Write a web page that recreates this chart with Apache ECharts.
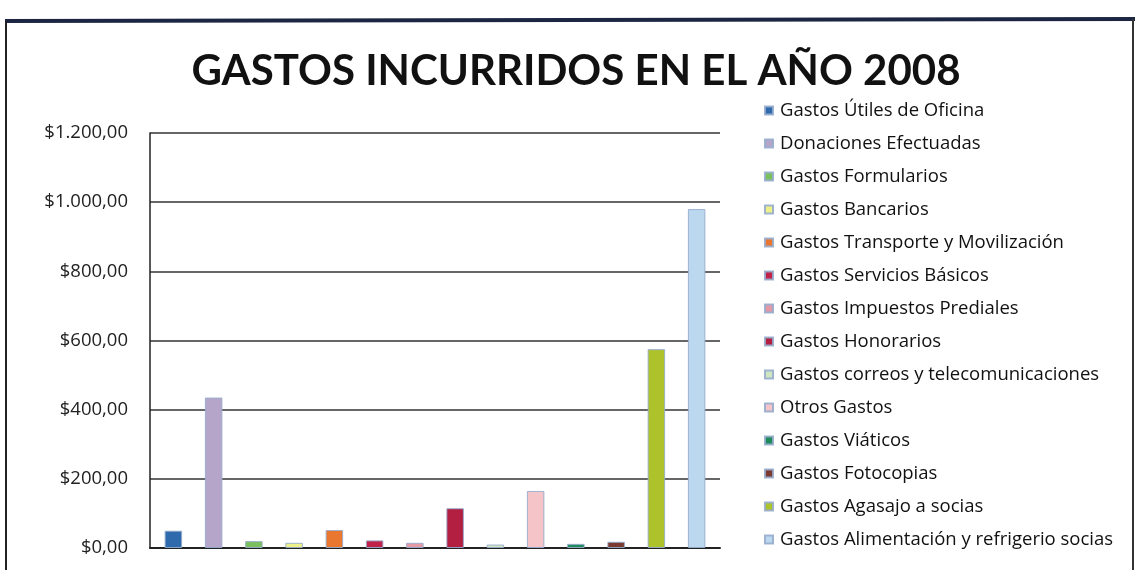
<!DOCTYPE html>
<html><head><meta charset="utf-8">
<script src="https://cdn.jsdelivr.net/npm/echarts@6/dist/echarts.min.js"></script>
<style>html,body{margin:0;padding:0;background:#fff}#c{width:1139px;height:570px}</style>
</head><body><div id="c"></div>
<script>
const seriesNames = [
  'Gastos Útiles de Oficina','Donaciones Efectuadas','Gastos Formularios','Gastos Bancarios',
  'Gastos Transporte y Movilización','Gastos Servicios Básicos','Gastos Impuestos Prediales',
  'Gastos Honorarios','Gastos correos y telecomunicaciones','Otros Gastos','Gastos Viáticos',
  'Gastos Fotocopias','Gastos Agasajo a socias','Gastos Alimentación y refrigerio socias'
];
const values = [50, 435, 20, 15, 52, 22, 15, 115, 10, 165, 12, 18, 575, 980];
const colors = ['#2f6aad','#b4a5c9','#7cc05e','#eef08a','#e9772f','#c0234a','#e39aa6',
  '#b21f41','#d0e6c0','#f4c4c8','#1f8a5c','#7a3a30','#adc22b','#bcd8ee'];
const tickLabels = ['$0,00','$200,00','$400,00','$600,00','$800,00','$1.000,00','$1.200,00'];
const categories = [''];

const chart = echarts.init(document.getElementById('c'));
const series = seriesNames.map((n,i)=>({
  name:n, type:'bar', data:[values[i]], barWidth:17.5, barGap:'130%',
  itemStyle:{color:colors[i], borderColor:'rgba(150,172,205,0.9)', borderWidth:1}
}));
chart.setOption({
  backgroundColor:'#fff',
  animation:false,
  title:{text:'GASTOS INCURRIDOS EN EL AÑO 2008', left:571, textAlign:'center', top:45,
    textStyle:{fontFamily:'Lato', fontWeight:'bold', fontSize:42, color:'#111'}},
  legend:{orient:'vertical', left:759, top:96, icon:'rect', itemWidth:8, itemHeight:8, itemGap:14,
    textStyle:{fontFamily:'Open Sans', fontSize:18.5, lineHeight:18, color:'#111', padding:[0,0,0,2]}, data:seriesNames},
  grid:{left:150, right:419, top:133, bottom:22},
  xAxis:{type:'category', data:categories, axisLine:{lineStyle:{color:'#222', width:2}},
    axisTick:{show:false}, axisLabel:{show:false}},
  yAxis:{type:'value', min:0, max:1200, interval:200,
    axisLine:{show:true, lineStyle:{color:'#222', width:1.5}},
    axisTick:{show:false},
    axisLabel:{margin:22, fontFamily:'Open Sans', fontSize:18.5, color:'#222',
      formatter:v=>tickLabels[Math.round(v/200)]},
    splitLine:{lineStyle:{color:'#333', width:1.5}}},
  graphic:[
    {type:'line', shape:{x1:5,y1:21,x2:1135,y2:19}, style:{stroke:'#1c2642', lineWidth:4}, z:10},
    {type:'line', shape:{x1:6,y1:21,x2:6,y2:570}, style:{stroke:'#222', lineWidth:2}, z:10},
    {type:'line', shape:{x1:1133,y1:19,x2:1133,y2:570}, style:{stroke:'#333', lineWidth:2}, z:10}
  ],
  series
});
</script></body></html>
